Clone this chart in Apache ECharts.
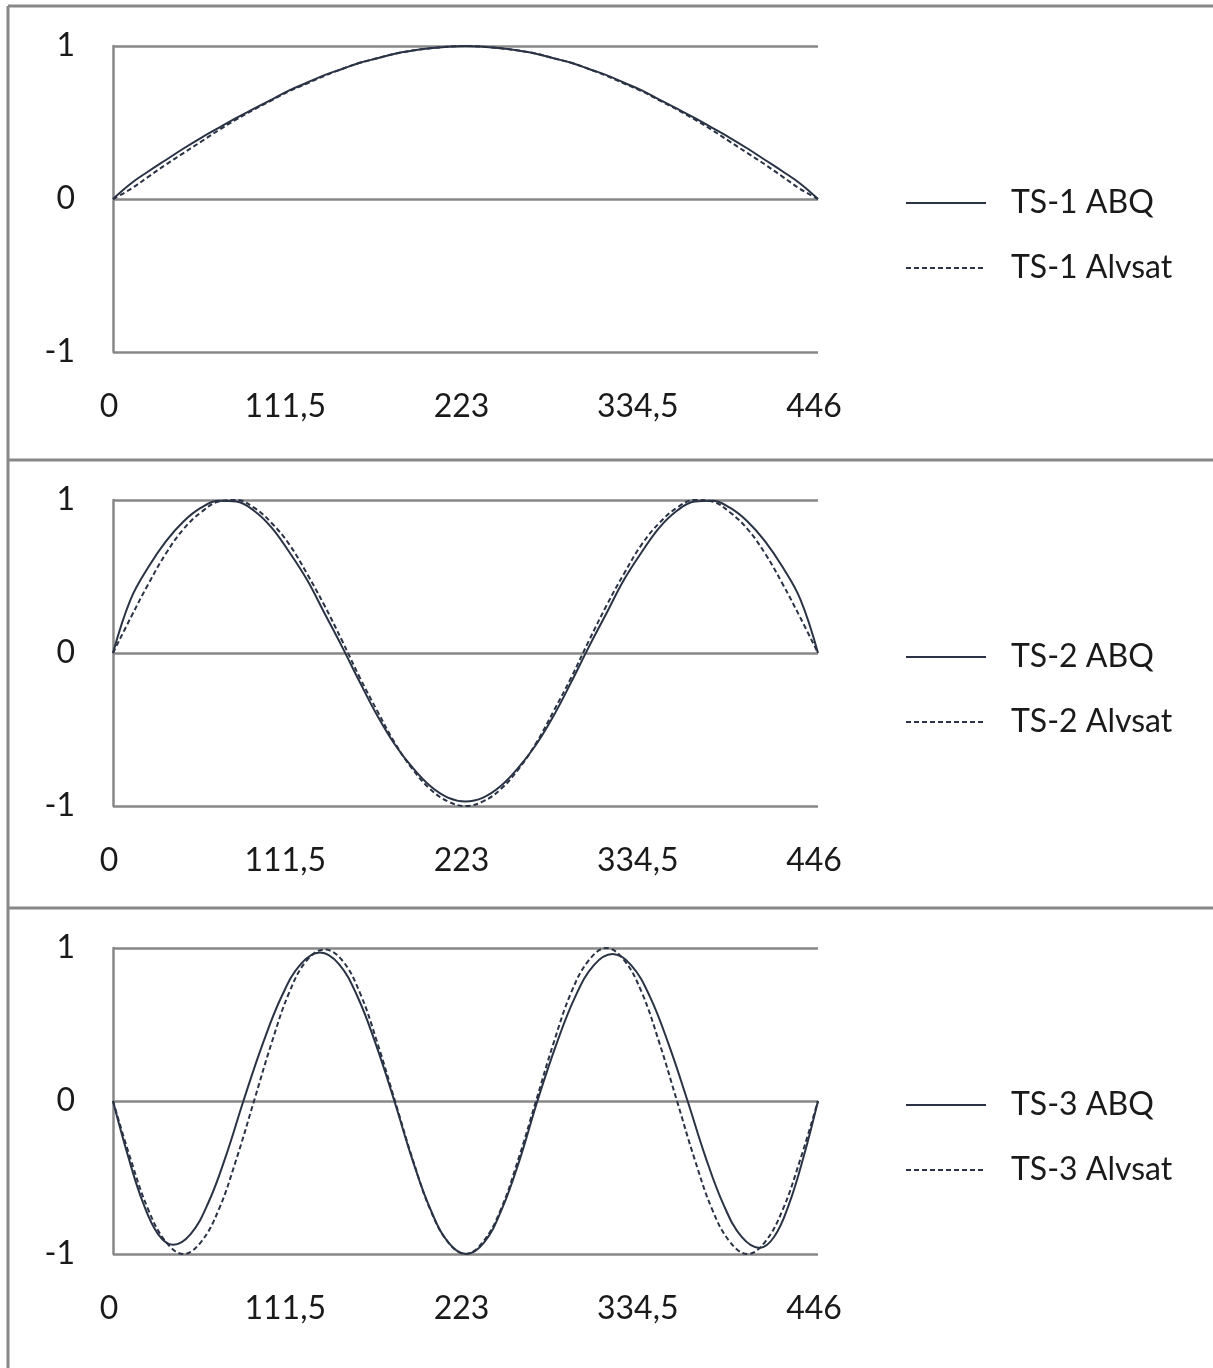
<!DOCTYPE html>
<html>
<head>
<meta charset="utf-8">
<script src="https://cdn.jsdelivr.net/npm/echarts@6/dist/echarts.min.js"></script>
<style>
html,body{margin:0;padding:0;background:#fff;}
#chart{width:1213px;height:1368px;}
</style>
</head>
<body>
<div id="chart"></div>
<script>
// x positions along the member (uniform sampling)
const xPos = [0, 11.15, 22.3, 33.45, 44.6, 55.75, 66.9, 78.05, 89.2, 100.35, 111.5, 122.65, 133.8, 144.95, 156.1, 167.25, 178.4, 189.55, 200.7, 211.85, 223, 234.15, 245.3, 256.45, 267.6, 278.75, 289.9, 301.05, 312.2, 323.35, 334.5, 345.65, 356.8, 367.95, 379.1, 390.25, 401.4, 412.55, 423.7, 434.85, 446];
// x positions for the TS-3 ABQ curve (sampled around its own extrema)
const xPosTs3ABQ = [0, 9.5, 19, 28.5, 38, 49.1, 60.3, 71.4, 82.5, 94.6, 106.8, 118.9, 131, 142.8, 154.5, 166.3, 178, 189.4, 200.8, 212.1, 223.5, 234.8, 246, 257.3, 268.5, 280.4, 292.3, 304.1, 316, 327.9, 339.8, 351.6, 363.5, 374.9, 386.3, 397.6, 409, 418.3, 427.5, 436.8, 446];

const xTicks = [0, 111.5, 223, 334.5, 446];
const yTicks = [-1, 0, 1];

const ts1ABQ = [0, 0.10, 0.18, 0.255, 0.33, 0.40, 0.465, 0.53, 0.59, 0.65, 0.71, 0.76, 0.81, 0.85, 0.89, 0.92, 0.95, 0.97, 0.985, 0.995, 1.0, 0.995, 0.985, 0.97, 0.95, 0.92, 0.89, 0.85, 0.81, 0.76, 0.71, 0.65, 0.59, 0.53, 0.465, 0.40, 0.33, 0.255, 0.18, 0.10, 0];
const ts1Alvsat = [0, 0.065, 0.145, 0.225, 0.30, 0.375, 0.45, 0.52, 0.585, 0.645, 0.705, 0.755, 0.805, 0.85, 0.89, 0.92, 0.95, 0.97, 0.985, 0.995, 1.0, 0.995, 0.985, 0.97, 0.95, 0.92, 0.89, 0.85, 0.805, 0.755, 0.705, 0.645, 0.585, 0.52, 0.45, 0.375, 0.30, 0.225, 0.145, 0.065, 0];

const ts2ABQ = [0, 0.35, 0.56, 0.73, 0.86, 0.95, 0.995, 0.99, 0.93, 0.82, 0.66, 0.48, 0.26, 0.04, -0.19, -0.41, -0.60, -0.75, -0.87, -0.945, -0.97, -0.945, -0.87, -0.75, -0.60, -0.41, -0.19, 0.04, 0.26, 0.48, 0.66, 0.82, 0.93, 0.99, 0.995, 0.95, 0.86, 0.73, 0.56, 0.35, 0];
const ts2Alvsat = [0, 0.23, 0.45, 0.65, 0.81, 0.92, 0.99, 1.0, 0.95, 0.85, 0.71, 0.52, 0.31, 0.08, -0.16, -0.38, -0.59, -0.76, -0.89, -0.97, -1.0, -0.97, -0.89, -0.76, -0.59, -0.38, -0.16, 0.08, 0.31, 0.52, 0.71, 0.85, 0.95, 1.0, 0.99, 0.92, 0.81, 0.65, 0.45, 0.23, 0];

const ts3ABQ = [0, -0.36, -0.665, -0.87, -0.94, -0.87, -0.665, -0.36, 0, 0.37, 0.686, 0.896, 0.97, 0.896, 0.686, 0.37, 0, -0.383, -0.707, -0.924, -1.0, -0.924, -0.707, -0.383, 0, 0.368, 0.679, 0.887, 0.96, 0.887, 0.679, 0.368, 0, -0.368, -0.679, -0.887, -0.96, -0.887, -0.679, -0.368, 0];
const ts3Alvsat = [0, -0.38, -0.71, -0.92, -1.0, -0.92, -0.71, -0.38, 0, 0.38, 0.71, 0.92, 0.99, 0.92, 0.71, 0.38, 0, -0.38, -0.71, -0.92, -1.0, -0.92, -0.71, -0.38, 0, 0.38, 0.71, 0.92, 1.0, 0.92, 0.71, 0.38, 0, -0.38, -0.71, -0.92, -1.0, -0.92, -0.71, -0.38, 0];

const seriesNames = [['TS-1 ABQ', 'TS-1 Alvsat'], ['TS-2 ABQ', 'TS-2 Alvsat'], ['TS-3 ABQ', 'TS-3 Alvsat']];
const seriesValues = [[ts1ABQ, ts1Alvsat], [ts2ABQ, ts2Alvsat], [ts3ABQ, ts3Alvsat]];
const seriesX = [[xPos, xPos], [xPos, xPos], [xPosTs3ABQ, xPos]];

const FONT = 'Lato';
const GRAY = '#878787';
const LINE = '#2a3345';
const TEXT = '#1a1a1a';

const gridTops = [46, 500, 948];
const legendTops = [187, 641, 1089];

const grids = [], xAxes = [], yAxes = [], series = [], legends = [];
gridTops.forEach((top, k) => {
  grids.push({ left: 113, width: 705, top: top, height: 306, containLabel: false });
  xAxes.push({
    type: 'value', gridIndex: k, min: xTicks[0], max: xTicks[xTicks.length - 1], interval: xTicks[1] - xTicks[0],
    axisLine: { show: false }, axisTick: { show: false }, splitLine: { show: false },
    axisLabel: { margin: 39, fontFamily: FONT, fontSize: 32, color: TEXT, padding: [0, 8, 0, 0],
      formatter: v => String(v).replace('.', ',') }
  });
  yAxes.push({
    type: 'value', gridIndex: k, min: yTicks[0], max: yTicks[yTicks.length - 1], interval: 1,
    axisLine: { show: true, lineStyle: { color: GRAY, width: 2.5 } },
    axisTick: { show: false },
    splitLine: { show: true, lineStyle: { color: GRAY, width: 2.5 } },
    axisLabel: { margin: 38, fontFamily: FONT, fontSize: 32, color: TEXT }
  });
  seriesNames[k].forEach((nm, j) => {
    const xs = seriesX[k][j];
    series.push({
      name: nm, type: 'line', xAxisIndex: k, yAxisIndex: k,
      data: xs.map((x, i) => [x, seriesValues[k][j][i]]),
      smooth: 0.4, symbol: 'none', showSymbol: false, clip: false,
      lineStyle: { color: LINE, width: 2, type: j === 0 ? 'solid' : [5, 3] },
      itemStyle: { color: LINE },
      z: j === 0 ? 3 : 2
    });
  });
  legends.push({
    data: seriesNames[k], orient: 'vertical', left: 905, top: legendTops[k], padding: 0,
    itemWidth: 80, itemHeight: 14, itemGap: 33, selectedMode: false,
    itemStyle: { opacity: 0, borderWidth: 0 },
    textStyle: { fontFamily: FONT, fontSize: 32, color: TEXT, padding: [0, 0, 0, 20] }
  });
});

const chart = echarts.init(document.getElementById('chart'), null, { renderer: 'canvas' });
chart.setOption({
  backgroundColor: '#ffffff',
  animation: false,
  grid: grids,
  xAxis: xAxes,
  yAxis: yAxes,
  legend: legends,
  series: series,
  graphic: [
    { type: 'line', shape: { x1: 8, y1: 6, x2: 1213, y2: 6 }, style: { stroke: GRAY, lineWidth: 3 } },
    { type: 'line', shape: { x1: 8, y1: 6, x2: 8, y2: 1368 }, style: { stroke: GRAY, lineWidth: 3 } },
    { type: 'line', shape: { x1: 8, y1: 460, x2: 1213, y2: 460 }, style: { stroke: GRAY, lineWidth: 3 } },
    { type: 'line', shape: { x1: 8, y1: 908, x2: 1213, y2: 908 }, style: { stroke: GRAY, lineWidth: 3 } }
  ]
});
</script>
</body>
</html>
